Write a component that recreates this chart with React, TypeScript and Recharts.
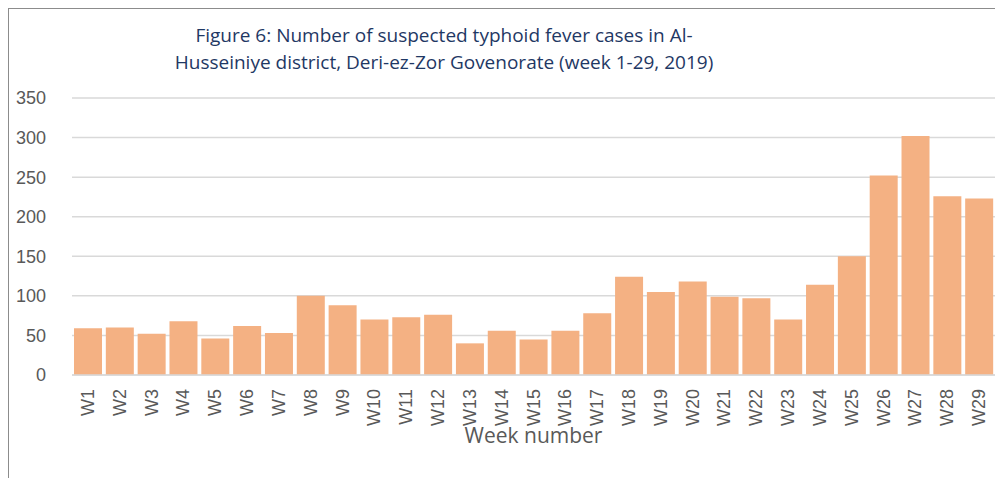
import { BarChart, Bar, XAxis, YAxis, CartesianGrid, Label } from "recharts";

const weeks = [
  "W1", "W2", "W3", "W4", "W5", "W6", "W7", "W8", "W9", "W10",
  "W11", "W12", "W13", "W14", "W15", "W16", "W17", "W18", "W19", "W20",
  "W21", "W22", "W23", "W24", "W25", "W26", "W27", "W28", "W29",
];
const cases = [
  59, 60, 52, 68, 46, 62, 53, 100, 88, 70,
  73, 76, 40, 56, 45, 56, 78, 124, 105, 118,
  99, 97, 70, 114, 150, 252, 302, 226, 223,
];
const yTicks = [0, 50, 100, 150, 200, 250, 300, 350];

const data = weeks.map((week, i) => ({ week, cases: cases[i] }));

const GREY = "#595959";
const FONT = "'Liberation Sans', Arial, sans-serif";
const TITLE_FONT = "'Liberation Sans Narrow', 'Open Sans', sans-serif";

function WeekTick(props: any) {
  const { x, y, payload } = props;
  const ty = y + 6;
  return (
    <text
      x={x}
      y={ty}
      dy={6}
      transform={`rotate(-90, ${x}, ${ty})`}
      textAnchor="end"
      fill={GREY}
      fontSize={18}
      fontFamily={FONT}
    >
      {payload.value}
    </text>
  );
}

export default function App() {
  return (
    <div
      style={{
        position: "relative",
        width: 995,
        height: 471,
        borderTop: "2px solid #8c8c8c",
        borderLeft: "1px solid #8c8c8c",
        boxSizing: "border-box",
        marginTop: -1,
      }}
    >
      <div
        style={{
          position: "absolute",
          left: 0,
          top: 13,
          width: 870,
          textAlign: "center",
          color: "#1F3864",
          fontFamily: TITLE_FONT,
          fontSize: 19,
          lineHeight: "27px",
        }}
      >
        Figure 6: Number of suspected typhoid fever cases in Al-
        <br />
        Husseiniye district, Deri-ez-Zor Govenorate (week 1-29, 2019)
      </div>
      <div style={{ position: "absolute", left: -9, top: -9 }}>
        <BarChart
          width={1003}
          height={479}
          data={data}
          margin={{ top: 98, right: 8, bottom: 0, left: 0 }}
          barCategoryGap={2}
        >
          <CartesianGrid vertical={false} stroke="#d9d9d9" strokeWidth={1.5} />
          <XAxis
            dataKey="week"
            interval={0}
            height={104}
            tickLine={false}
            axisLine={{ stroke: "#d9d9d9", strokeWidth: 1.5 }}
            tick={<WeekTick />}
          >
            <Label
              value="Week number"
              position="insideTop"
              offset={53}
              fill={GREY}
              fontSize={21}
              fontFamily={TITLE_FONT}
            />
          </XAxis>
          <YAxis
            width={72}
            domain={[0, 350]}
            ticks={yTicks}
            tickLine={false}
            axisLine={false}
            tick={{ fill: GREY, fontSize: 18, fontFamily: FONT }}
            tickMargin={20}
          />
          <Bar dataKey="cases" fill="#F4B183" isAnimationActive={false} />
        </BarChart>
      </div>
    </div>
  );
}
